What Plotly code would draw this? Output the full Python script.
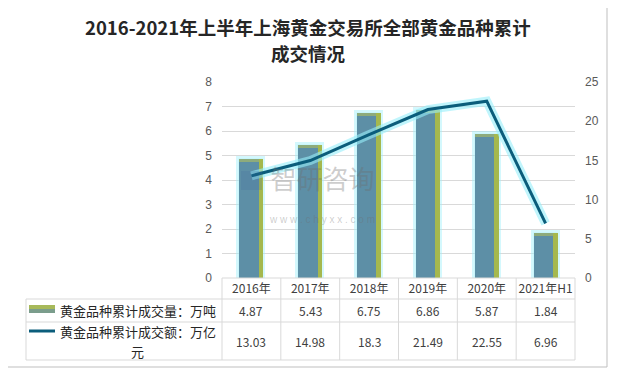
import plotly.graph_objects as go

categories = ["2016年", "2017年", "2018年", "2019年", "2020年", "2021年H1"]
volume = [4.87, 5.43, 6.75, 6.86, 5.87, 1.84]          # 万吨
turnover = [13.03, 14.98, 18.3, 21.49, 22.55, 6.96]   # 万亿元
vol_label = "黄金品种累计成交量：万吨"
amt_label_1 = "黄金品种累计成交额：万亿"
amt_label_2 = "元"
title_1 = "2016-2021年上半年上海黄金交易所全部黄金品种累计"
title_2 = "成交情况"
left_ticks = [0, 1, 2, 3, 4, 5, 6, 7, 8]
right_ticks = [0, 5, 10, 15, 20, 25]

# page body has an 8px margin: figure is sized so it fits the 617x375 window
OFF = 8
W, H = 617 - OFF, 375 - OFF
# plot area in screen pixels
SL, SR, ST, SB = 222, 575, 82, 278
L, R, T, B = SL - OFF, SR - OFF, ST - OFF, SB - OFF


def px(x):
    return (x - SL) / (SR - SL)


def py(y):
    return (SB - y) / (SB - ST)


CJK = "Noto Sans CJK SC"
LAT = "Liberation Sans"

fig = go.Figure()

bw = 0.41
off = -bw / 2
# glow
fig.add_trace(go.Bar(x=categories, y=volume, width=bw, offset=off,
                     marker=dict(color="rgba(160,240,250,0.45)",
                                 line=dict(color="rgba(160,240,250,0.45)", width=5)),
                     hoverinfo="skip", showlegend=False))
# green edge
fig.add_trace(go.Bar(x=categories, y=volume, width=bw, offset=off,
                     marker=dict(color="#a5b84e", line=dict(width=0)),
                     hoverinfo="skip", showlegend=False))
# blue body
fig.add_trace(go.Bar(x=categories, y=volume, width=0.33, offset=off,
                     marker=dict(color="#5d8fa6", line=dict(width=0)),
                     name=vol_label, showlegend=False))
# top band
band = 0.12
fig.add_trace(go.Bar(x=categories, y=[band] * len(volume), base=[v - band for v in volume],
                     width=0.33, offset=off,
                     marker=dict(color="#8eab7c", line=dict(width=0)),
                     hoverinfo="skip", showlegend=False))

# line glow + line
fig.add_trace(go.Scatter(x=categories, y=turnover, yaxis="y2", mode="lines",
                         line=dict(color="rgba(150,238,250,0.6)", width=9),
                         hoverinfo="skip", showlegend=False))
fig.add_trace(go.Scatter(x=categories, y=turnover, yaxis="y2", mode="lines",
                         line=dict(color="#0b5d7b", width=3),
                         name=amt_label_1 + amt_label_2, showlegend=False))

grid = "#d9d9d9"
shapes = []
# outer frame
shapes.append(dict(type="rect", xref="paper", yref="paper", x0=px(3), x1=px(607),
                   y0=py(367), y1=py(3), line=dict(color="#bfbfbf", width=1), layer="below"))
# table lines
col_edges = [SL + i * (SR - SL) / 6 for i in range(7)]
for xe in col_edges:
    shapes.append(dict(type="line", xref="paper", yref="paper", x0=px(xe), x1=px(xe),
                       y0=py(278), y1=py(360), line=dict(color=grid, width=1)))
shapes.append(dict(type="line", xref="paper", yref="paper", x0=px(SL), x1=px(SR),
                   y0=py(278), y1=py(278), line=dict(color=grid, width=1)))
shapes.append(dict(type="line", xref="paper", yref="paper", x0=px(26), x1=px(26),
                   y0=py(299), y1=py(360), line=dict(color=grid, width=1)))
for yy in [299, 322, 360]:
    shapes.append(dict(type="line", xref="paper", yref="paper", x0=px(26), x1=px(575),
                       y0=py(yy), y1=py(yy), line=dict(color=grid, width=1)))
# legend keys
shapes.append(dict(type="rect", xref="paper", yref="paper", x0=px(29), x1=px(55),
                   y0=py(309), y1=py(305), fillcolor="#a7b95a", line=dict(width=0)))
shapes.append(dict(type="rect", xref="paper", yref="paper", x0=px(29), x1=px(55),
                   y0=py(313), y1=py(309), fillcolor="#7b9d8c", line=dict(width=0)))
shapes.append(dict(type="line", xref="paper", yref="paper", x0=px(29), x1=px(55),
                   y0=py(331), y1=py(331), line=dict(color="#0b5d7b", width=3)))
# watermark logo
shapes.append(dict(type="rect", xref="paper", yref="paper", x0=px(241), x1=px(262),
                   y0=py(190), y1=py(171), fillcolor="rgba(70,110,160,0.22)", line=dict(width=0)))

annotations = []


def note(text, x, y, size, color, family=CJK, xanchor="center", xref="paper"):
    annotations.append(dict(text=text, x=x, y=y, xref=xref, yref="paper",
                            showarrow=False, xanchor=xanchor, yanchor="middle",
                            font=dict(family=family, size=size, color=color)))


note("<b>" + title_1 + "</b>", px(308), py(27), 18.5, "#262626")
note("<b>" + title_2 + "</b>", px(308), py(53), 18.5, "#262626")
# watermark (two lines in one text)
annotations.append(dict(
    text="<span style='font-size:26px'>智研咨询</span><br>"
         "<span style='font-size:10px;font-family:Liberation Sans'>w w w . c h y x x . c o m</span>",
    x=px(322), y=py(192), xref="paper", yref="paper", showarrow=False,
    xanchor="center", yanchor="middle",
    font=dict(family=CJK, size=26, color="rgba(110,110,110,0.35)")))
# table values
for i, c in enumerate(categories):
    note(f"{volume[i]:g}", c, py(310), 12, "#404040", xref="x")
    note(f"{turnover[i]:g}", c, py(341), 12, "#404040", xref="x")
# legend texts
note(vol_label, px(58), py(310), 13, "#262626", xanchor="left")
note(amt_label_1, px(58), py(331), 13, "#262626", xanchor="left")
note(amt_label_2, px(137), py(351), 13, "#262626")

fig.update_layout(
    width=W, height=H,
    margin=dict(l=L, r=W - R, t=T, b=H - B, pad=0, autoexpand=False),
    paper_bgcolor="white", plot_bgcolor="white",
    barmode="overlay", bargap=0,
    showlegend=False,
    shapes=shapes, annotations=annotations,
    xaxis=dict(type="category", categoryorder="array", categoryarray=categories,
               showline=False, showgrid=False, zeroline=False, ticks="", automargin=False,
               tickfont=dict(family=CJK, size=12, color="#404040"), ticklabelstandoff=2,
               fixedrange=True),
    yaxis=dict(range=[0, 8], tickvals=left_ticks, showgrid=True, gridcolor=grid, gridwidth=1,
               zeroline=False, showline=False, ticks="", automargin=False,
               tickfont=dict(family=LAT, size=12, color="#595959"), ticklabelstandoff=9),
    yaxis2=dict(range=[0, 25], tickvals=right_ticks, overlaying="y", side="right",
                showgrid=False, zeroline=False, showline=False, ticks="", automargin=False,
                tickfont=dict(family=LAT, size=12, color="#595959"), ticklabelstandoff=9),
)

fig.write_html("out.html")
